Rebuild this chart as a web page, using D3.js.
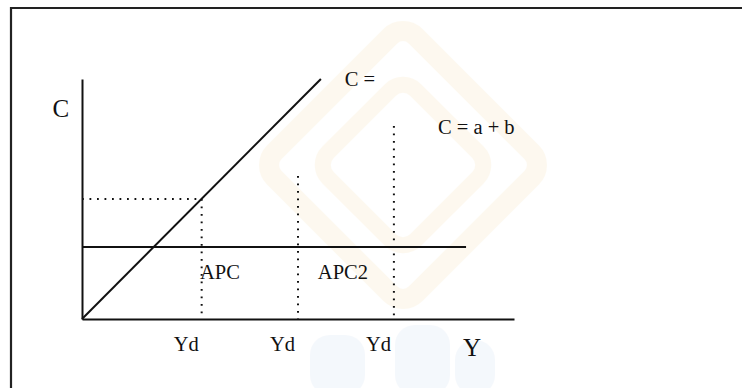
<!DOCTYPE html>
<html>
<head>
  <meta charset="utf-8">
  <title>Konsumsi dan APC</title>
  <script src="https://cdn.jsdelivr.net/npm/d3@7"></script>
  <style>
    body { margin: 0; background: #fff; }
  </style>
</head>
<body>
<script>
  // data, in chart units (x: income Y, y: consumption C), 0..100
  var axisMax = [100, 100];
  var consumptionLine = [[0, 0], [55.3, 100]];         // C = ... (45 degree style)
  var autonomousLine = [[0, 30], [88.9, 30]];          // C = a (flat)
  var guideLevel = [[0, 50], [27.7, 50]];              // dotted horizontal
  var incomeMarks = [27.7, 50, 72.2];                  // Yd positions
  var markTops = [50, 59.6, 80.4];                     // top of each dotted vertical
  var incomeLabels = ["Yd", "Yd", "Yd"];
  var apcLabels = [["APC", 27.3, 16.5], ["APC2", 54.6, 16.5]];
  var eqLabels = [["C =", 60.8, 97.1], ["C = a + b", 82.4, 77]];

  var width = 742, height = 388;
  var margin = { top: 79, left: 82, right: 228, bottom: 69 };
  var serif = "'Liberation Serif', 'Times New Roman', Times, 'DejaVu Serif', serif";

  var svg = d3.select("body").append("svg")
    .attr("width", width).attr("height", height)
    .attr("font-family", serif);

  // very faint watermark behind the diagram
  var wm = svg.append("g").attr("opacity", 0.1);
  [[403, 165, 100], [403, 165, 62]].forEach(function(d, i) {
    wm.append("rect")
      .attr("x", d[0] - d[2]).attr("y", d[1] - d[2])
      .attr("width", d[2] * 2).attr("height", d[2] * 2)
      .attr("rx", 18)
      .attr("transform", "rotate(45," + d[0] + "," + d[1] + ")")
      .attr("fill", "none")
      .attr("stroke", "#f2c66e")
      .attr("stroke-width", i == 0 ? 20 : 16);
  });
  [[310, 335, 55, 60], [395, 325, 55, 70], [455, 340, 40, 55]].forEach(function(d) {
    wm.append("rect")
      .attr("x", d[0]).attr("y", d[1])
      .attr("width", d[2]).attr("height", d[3])
      .attr("rx", 20)
      .attr("fill", "#9fc0e8");
  });

  // page frame (top and left only)
  svg.append("path")
    .attr("d", "M11,388 V8 H742")
    .attr("fill", "none")
    .attr("stroke", "#222")
    .attr("stroke-width", 2.2);

  var xScale = d3.scaleLinear()
    .domain([0, axisMax[0]])
    .range([margin.left, width - margin.right]);
  var yScale = d3.scaleLinear()
    .domain([0, axisMax[1]])
    .range([height - margin.bottom, margin.top]);

  var line = d3.line()
    .x(function(d) { return xScale(d[0]); })
    .y(function(d) { return yScale(d[1]); });

  // axes without ticks
  svg.append("g")
    .attr("transform", "translate(0," + yScale(0) + ")")
    .call(d3.axisBottom(xScale).tickValues([]).tickSizeOuter(0))
    .select(".domain").attr("stroke", "#111").attr("stroke-width", 2);
  svg.append("g")
    .attr("transform", "translate(" + xScale(0) + ",0)")
    .call(d3.axisLeft(yScale).tickValues([]).tickSizeOuter(0))
    .select(".domain").attr("stroke", "#111").attr("stroke-width", 2);

  // dotted guides
  svg.append("path")
    .datum(guideLevel)
    .attr("fill", "none")
    .attr("stroke", "#111")
    .attr("stroke-width", 2)
    .attr("stroke-dasharray", "1.8,5.7")
    .attr("d", line);

  svg.selectAll(".mark")
    .data(incomeMarks)
    .enter().append("path")
    .attr("class", "mark")
    .attr("fill", "none")
    .attr("stroke", "#111")
    .attr("stroke-width", 2)
    .attr("stroke-dasharray", "1.8,5.7")
    .attr("d", function(d, i) { return line([[d, markTops[i]], [d, 0]]); });

  // the two consumption lines
  svg.append("path")
    .datum(autonomousLine)
    .attr("fill", "none")
    .attr("stroke", "#111")
    .attr("stroke-width", 1.8)
    .attr("d", line);

  svg.append("path")
    .datum(consumptionLine)
    .attr("fill", "none")
    .attr("stroke", "#111")
    .attr("stroke-width", 2)
    .attr("d", line);

  // labels
  svg.append("text")
    .attr("x", xScale(-6.8)).attr("y", yScale(84))
    .attr("font-size", "25px")
    .attr("fill", "#111")
    .text("C");
  svg.append("text")
    .attr("x", xScale(88.2)).attr("y", yScale(-15.5))
    .attr("font-size", "25px")
    .attr("fill", "#111")
    .text("Y");

  svg.selectAll(".yd")
    .data(incomeMarks)
    .enter().append("text")
    .attr("class", "yd")
    .attr("x", function(d) { return xScale(d) - 28; })
    .attr("y", yScale(-13.4))
    .attr("font-size", "20.5px")
    .attr("fill", "#111")
    .text(function(d, i) { return incomeLabels[i]; });

  svg.selectAll(".apc")
    .data(apcLabels)
    .enter().append("text")
    .attr("class", "apc")
    .attr("x", function(d) { return xScale(d[1]); })
    .attr("y", function(d) { return yScale(d[2]); })
    .attr("font-size", "20.5px")
    .attr("fill", "#111")
    .text(function(d) { return d[0]; });

  svg.selectAll(".eq")
    .data(eqLabels)
    .enter().append("text")
    .attr("class", "eq")
    .attr("x", function(d) { return xScale(d[1]); })
    .attr("y", function(d) { return yScale(d[2]); })
    .attr("font-size", "20.5px")
    .attr("fill", "#111")
    .text(function(d) { return d[0]; });
</script>
</body>
</html>
